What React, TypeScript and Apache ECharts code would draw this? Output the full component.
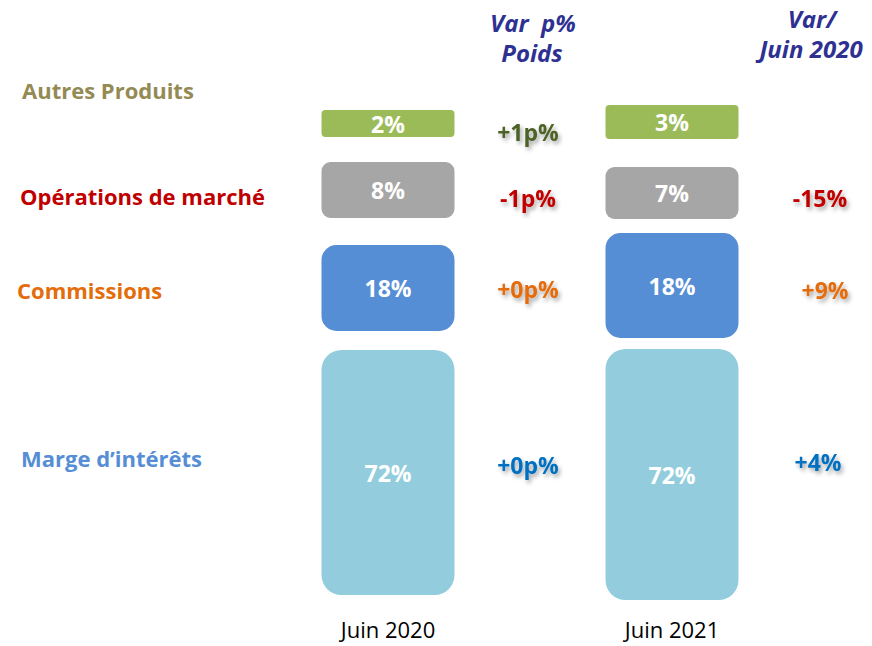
import React, { useEffect, useRef } from "react";
import * as echarts from "echarts";

const categories = ["Juin 2020", "Juin 2021"];
const segmentNames = ["Marge d’intérêts", "Commissions", "Opérations de marché", "Autres Produits"];
// displayed shares (%)
const margeShare = [72, 72];
const commissionsShare = [18, 18];
const operationsShare = [8, 7];
const autresShare = [2, 3];
// block sizes as drawn in the picture (arbitrary units)
const margeDrawn = [245, 251];
const commissionsDrawn = [86, 105];
const operationsDrawn = [56, 52];
const autresDrawn = [27, 34];
// spacing between blocks as drawn
const baseGap = [5, 0];
const gapMargeComm = [19, 11];
const gapCommOps = [27, 14];
const gapOpsAutres = [25, 28];
// variation columns (Autres, Opérations, Commissions, Marge)
const varPoids = ["+1p%", "-1p%", "+0p%", "+0p%"];
const varJuin2020 = ["", "-15%", "+9%", "+4%"];
const headers = ["Var  p%", "Poids", "Var/", "Juin 2020"];

const FONT = "'Open Sans', 'Noto Sans', sans-serif";

export default function App() {
  const ref = useRef<HTMLDivElement>(null);
  useEffect(() => {
    document.body.style.margin = "0";
    if (!ref.current) return;
    const chart = echarts.init(ref.current, undefined, { renderer: "svg" });

    const spacer = (name: string, data: number[]) => ({
      name,
      type: "bar",
      stack: "s",
      data,
      barWidth: 133,
      itemStyle: { color: "rgba(0,0,0,0)" },
      silent: true,
      label: { show: false },
    });
    const block = (
      name: string,
      drawn: number[],
      share: number[],
      color: string,
      r: number
    ) => ({
      name,
      type: "bar",
      stack: "s",
      barWidth: 133,
      data: drawn,
      itemStyle: { color, borderRadius: [r, r, r, r] },
      label: {
        show: true,
        position: "inside",
        color: "#ffffff",
        fontFamily: FONT,
        fontWeight: "bold",
        fontSize: 23,
        formatter: (p: any) => `${share[p.dataIndex]}%`,
      },
    });

    const poidsY = [132, 198, 289, 465];
    const juinY = [132, 198, 290, 462];
    const rowColors = ["#4F6228", "#C00000", "#E46C0A", "#0070C0"];
    const labelColors = ["#948A54", "#C00000", "#E46C0A", "#558ED5"];
    const labelY = [90, 196, 290, 458];
    const labelX = [22, 20, 17, 21];
    const labelsOrder = [segmentNames[3], segmentNames[2], segmentNames[1], segmentNames[0]];

    const shadow = {
      textShadowColor: "rgba(0,0,0,0.35)",
      textShadowBlur: 4,
      textShadowOffsetX: 2,
      textShadowOffsetY: 3,
    };

    const graphics: any[] = [];
    labelsOrder.forEach((t, i) => {
      graphics.push({
        type: "text",
        x: labelX[i],
        y: labelY[i],
        style: {
          text: t,
          fill: labelColors[i],
          font: `bold 22px ${FONT}`,
          verticalAlign: "middle",
        },
      });
    });
    varPoids.forEach((t, i) => {
      graphics.push({
        type: "text",
        x: 528,
        y: poidsY[i],
        style: {
          text: t,
          fill: rowColors[i],
          font: `bold 23px ${FONT}`,
          align: "center",
          verticalAlign: "middle",
          ...shadow,
        },
      });
    });
    const juinX = [820, 820, 825, 818];
    varJuin2020.forEach((t, i) => {
      if (!t) return;
      graphics.push({
        type: "text",
        x: juinX[i],
        y: juinY[i],
        style: {
          text: t,
          fill: rowColors[i],
          font: `bold 23px ${FONT}`,
          align: "center",
          verticalAlign: "middle",
          ...shadow,
        },
      });
    });
    const headColor = "#2E3192";
    const headPos = [
      [533, 22],
      [532, 52],
      [812, 18],
      [811, 48],
    ];
    headers.forEach((t, i) => {
      graphics.push({
        type: "text",
        x: headPos[i][0],
        y: headPos[i][1],
        style: {
          text: t,
          fill: headColor,
          font: `italic bold 24px ${FONT}`,
          align: "center",
          verticalAlign: "middle",
        },
      });
    });

    chart.setOption({
      animation: false,
      grid: { left: 246, right: 58, top: 100, bottom: 46 },
      xAxis: {
        type: "category",
        data: categories,
        axisLine: { show: false },
        axisTick: { show: false },
        axisLabel: {
          color: "#000000",
          fontFamily: FONT,
          fontSize: 22,
          lineHeight: 22,
          margin: 18,
        },
      },
      yAxis: {
        type: "value",
        min: 0,
        max: 500,
        show: false,
        splitLine: { show: false },
      },
      series: [
        spacer("base", baseGap),
        block(segmentNames[0], margeDrawn, margeShare, "#93CDDD", 20),
        spacer("g1", gapMargeComm),
        block(segmentNames[1], commissionsDrawn, commissionsShare, "#558ED5", 15),
        spacer("g2", gapCommOps),
        block(segmentNames[2], operationsDrawn, operationsShare, "#A6A6A6", 9),
        spacer("g3", gapOpsAutres),
        block(segmentNames[3], autresDrawn, autresShare, "#9BBB59", 4),
      ],
      graphic: graphics,
    });
    return () => chart.dispose();
  }, []);
  return <div ref={ref} style={{ width: 872, height: 646 }} />;
}
